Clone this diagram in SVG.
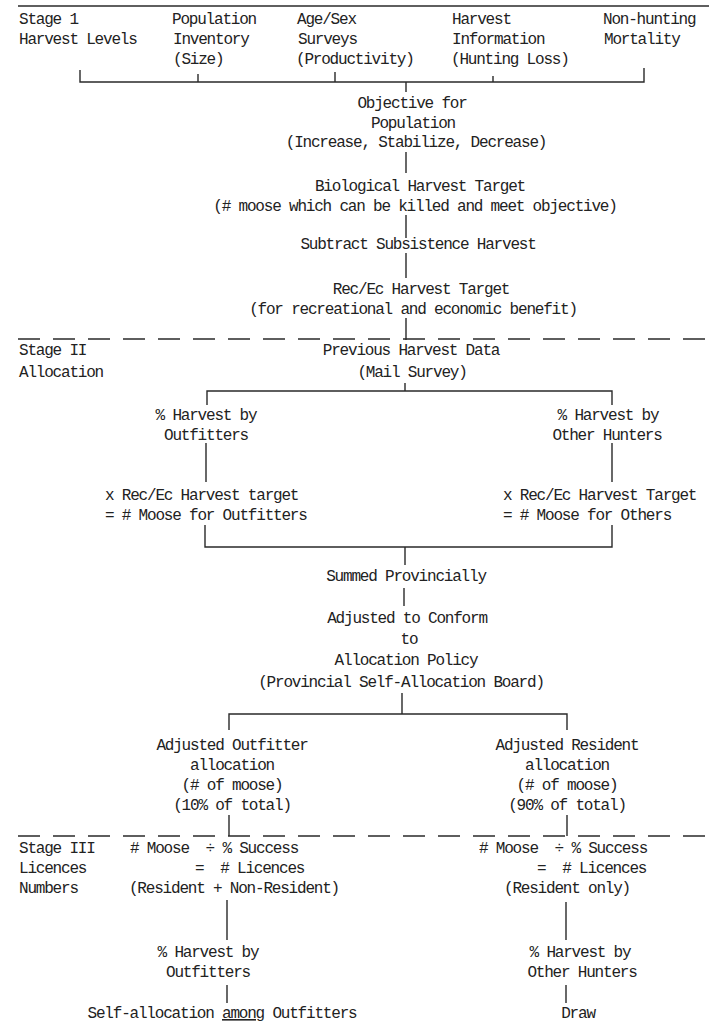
<svg xmlns="http://www.w3.org/2000/svg" width="709" height="1028" viewBox="0 0 709 1028">
<style>
.t{font-family:"Liberation Mono","DejaVu Sans Mono",monospace;font-size:16px;letter-spacing:-1.2px;fill:#222}
.m{text-anchor:middle}
.ln{stroke:#2a2a2a;stroke-width:1.4;fill:none}
.dash{stroke-dasharray:22 13}
</style>
<rect width="709" height="1028" fill="#fff"/>
<g id="frame">
<line class="ln" x1="18" y1="6" x2="709" y2="6" stroke-width="2"/>
<line class="ln dash" x1="18" y1="339" x2="709" y2="339"/>
<line class="ln dash" x1="18" y1="836" x2="709" y2="836"/>
</g>
<g id="connectors">
<path class="ln" d="M80,70 V82 H644 V68 M198,74 V82 M335,72 V82 M493,76 V82 M406,82 V92"/>
<path class="ln" d="M406,152 V173 M406,215 V238 M406,253 V278 M406,318 V340"/>
<path class="ln" d="M405,383 V391 M207,405 V391 H612 V405"/>
<path class="ln" d="M206,443 V482 M612,443 V482"/>
<path class="ln" d="M205,525 V547 H612 V525 M405,547 V565"/>
<path class="ln" d="M404,588 V606"/>
<path class="ln" d="M402,693 V714 M229,730 V714 H567 V730"/>
<path class="ln" d="M229,815 V836 M567,815 V836"/>
<path class="ln" d="M227,900 V940 M566,902 V940"/>
<path class="ln" d="M227,985 V1003 M566,985 V1003"/>
</g>
<g id="stage1">
<text class="t" x="19" y="24">Stage 1</text>
<text class="t" x="19" y="44">Harvest Levels</text>
</g>
<g id="population-inventory">
<text class="t" x="172" y="24">Population</text>
<text class="t" x="173" y="44">Inventory</text>
<text class="t" x="173" y="64">(Size)</text>
</g>
<g id="age-sex">
<text class="t" x="297" y="24">Age/Sex</text>
<text class="t" x="298" y="44">Surveys</text>
<text class="t" x="296" y="64">(Productivity)</text>
</g>
<g id="harvest-info">
<text class="t" x="452" y="24">Harvest</text>
<text class="t" x="452" y="44">Information</text>
<text class="t" x="451" y="64">(Hunting Loss)</text>
</g>
<g id="non-hunting">
<text class="t" x="603" y="24">Non-hunting</text>
<text class="t" x="604" y="44">Mortality</text>
</g>
<g id="objective">
<text class="t m" x="412" y="108">Objective for</text>
<text class="t m" x="413" y="128">Population</text>
<text class="t m" x="416" y="147">(Increase, Stabilize, Decrease)</text>
</g>
<g id="bio-target">
<text class="t m" x="420" y="191">Biological Harvest Target</text>
<text class="t m" x="415" y="211">(# moose which can be killed and meet objective)</text>
</g>
<g id="subtract">
<text class="t m" x="418" y="249">Subtract Subsistence Harvest</text>
</g>
<g id="rec-target">
<text class="t m" x="421" y="294">Rec/Ec Harvest Target</text>
<text class="t m" x="413" y="314">(for recreational and economic benefit)</text>
</g>
<g id="stage2">
<text class="t" x="19" y="355">Stage II</text>
<text class="t" x="19" y="377">Allocation</text>
</g>
<g id="previous">
<text class="t m" x="411" y="355">Previous Harvest Data</text>
<text class="t m" x="412" y="377">(Mail Survey)</text>
</g>
<g id="pct-outfitters">
<text class="t m" x="206" y="420">% Harvest by</text>
<text class="t m" x="206" y="440">Outfitters</text>
</g>
<g id="pct-others">
<text class="t m" x="608" y="420">% Harvest by</text>
<text class="t m" x="607" y="440">Other Hunters</text>
</g>
<g id="moose-outfitters">
<text class="t" x="105" y="500">x Rec/Ec Harvest target</text>
<text class="t" x="105" y="520">= # Moose for Outfitters</text>
</g>
<g id="moose-others">
<text class="t" x="503" y="500">x Rec/Ec Harvest Target</text>
<text class="t" x="503" y="520">= # Moose for Others</text>
</g>
<g id="summed">
<text class="t m" x="406" y="581">Summed Provincially</text>
</g>
<g id="adjusted">
<text class="t m" x="407" y="623">Adjusted to Conform</text>
<text class="t m" x="409" y="644">to</text>
<text class="t m" x="406" y="665">Allocation Policy</text>
<text class="t m" x="401" y="687">(Provincial Self-Allocation Board)</text>
</g>
<g id="adj-outfitter">
<text class="t m" x="232" y="750">Adjusted Outfitter</text>
<text class="t m" x="232" y="770">allocation</text>
<text class="t m" x="232" y="790">(# of moose)</text>
<text class="t m" x="232" y="810">(10% of total)</text>
</g>
<g id="adj-resident">
<text class="t m" x="567" y="750">Adjusted Resident</text>
<text class="t m" x="567" y="770">allocation</text>
<text class="t m" x="567" y="790">(# of moose)</text>
<text class="t m" x="567" y="810">(90% of total)</text>
</g>
<g id="stage3">
<text class="t" x="19" y="853">Stage III</text>
<text class="t" x="19" y="873">Licences</text>
<text class="t" x="19" y="893">Numbers</text>
</g>
<g id="licences-outfitter">
<text class="t" x="130" y="853" xml:space="preserve"># Moose  ÷ % Success</text>
<text class="t" x="195" y="873" xml:space="preserve">=  # Licences</text>
<text class="t m" x="234" y="893">(Resident + Non-Resident)</text>
</g>
<g id="licences-resident">
<text class="t" x="479" y="853" xml:space="preserve"># Moose  ÷ % Success</text>
<text class="t" x="537" y="873" xml:space="preserve">=  # Licences</text>
<text class="t m" x="567" y="893">(Resident only)</text>
</g>
<g id="pct-outfitters-2">
<text class="t m" x="208" y="957">% Harvest by</text>
<text class="t m" x="208" y="977">Outfitters</text>
</g>
<g id="pct-others-2">
<text class="t m" x="580" y="957">% Harvest by</text>
<text class="t m" x="582" y="977">Other Hunters</text>
</g>
<g id="self-allocation">
<text class="t m" x="222" y="1018">Self-allocation <tspan text-decoration="underline">among</tspan> Outfitters</text>
</g>
<g id="draw">
<text class="t m" x="578" y="1018">Draw</text>
</g>
</svg>
